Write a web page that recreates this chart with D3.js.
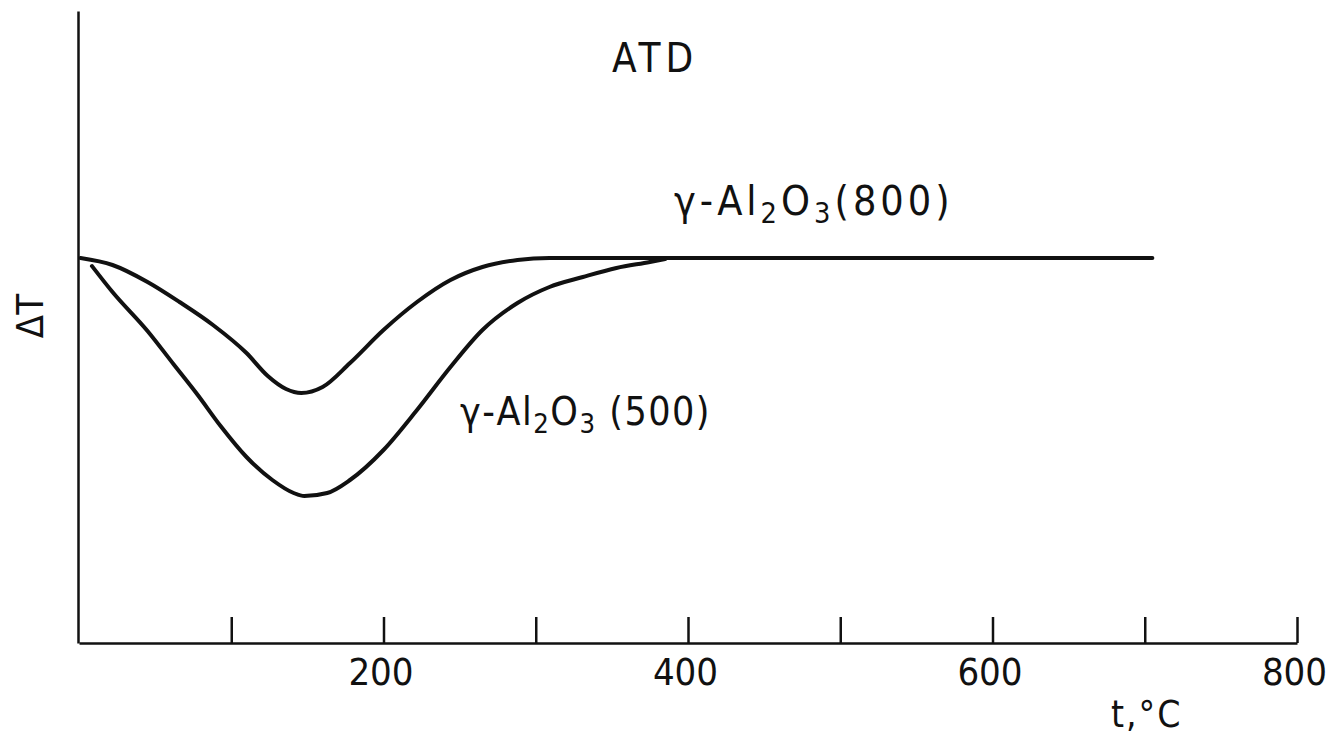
<!DOCTYPE html>
<html>
<head>
<meta charset="utf-8">
<script src="https://cdn.jsdelivr.net/npm/d3@7/dist/d3.min.js"></script>
<style>
  html, body { margin: 0; padding: 0; background: #fff; }
  svg { display: block; }
  text { font-family: "DejaVu Sans Condensed", "DejaVu Sans", sans-serif; font-stretch: condensed; fill: #111; }
</style>
</head>
<body>
<svg id="chart" width="1340" height="740"></svg>
<script>
// DTA (ATD) curves of gamma-alumina calcined at 800 and 500 °C.
// Temperature in °C, ΔT in arbitrary units (0 = baseline, negative = endotherm).
const temp800 = [1, 22, 45, 66, 88, 110, 124, 136, 146, 160, 178, 200, 222, 244, 265, 288, 309, 331, 400, 705];
const dT800   = [0, -0.7, -2.4, -4.4, -6.7, -9.5, -11.8, -13.1, -13.5, -12.9, -10.5, -7.2, -4.4, -2.2, -0.9, -0.2, 0, 0, 0, 0];

const temp500 = [8.5, 22, 45, 62, 78, 93, 110, 127, 141, 148, 163, 178, 200, 222, 244, 265, 288, 309, 331, 353, 375, 385];
const dT500   = [-0.8, -3.4, -7.3, -10.6, -13.7, -16.8, -19.9, -22.2, -23.5, -23.8, -23.5, -22.2, -19.2, -15.2, -10.9, -7.2, -4.5, -2.9, -1.9, -1.0, -0.4, -0.1];

const tickValues = [100, 200, 300, 400, 500, 600, 700, 800];
const tickLabels = { 200: "200", 400: "400", 600: "600", 800: "800" };

const svg = d3.select("#chart");

const x = d3.scaleLinear().domain([0, 800]).range([79, 1297]);
const y = d3.scaleLinear().domain([-38.5, 24.7]).range([643, 11]);

// x axis with upward ticks
const xAxis = svg.append("g")
  .attr("transform", `translate(0,${y(-38.5)})`)
  .call(d3.axisBottom(x)
    .tickValues(tickValues)
    .tickSizeInner(-26)
    .tickSizeOuter(0)
    .tickPadding(15)
    .tickFormat(d => tickLabels[d] || ""));
xAxis.select(".domain").attr("stroke", "#111").attr("stroke-width", 2.5);
xAxis.selectAll(".tick line").attr("stroke", "#111").attr("stroke-width", 2.5);
xAxis.selectAll(".tick text")
  .attr("font-family", "DejaVu Sans Condensed, DejaVu Sans, sans-serif")
  .attr("font-size", 38)
  .attr("dx", -3)
  .attr("fill", "#111");

// y axis: plain vertical line
const yAxis = svg.append("g")
  .attr("transform", `translate(${x(0) - 1},0)`)
  .call(d3.axisLeft(y).tickValues([]).tickSizeOuter(0));
yAxis.select(".domain").attr("stroke", "#111").attr("stroke-width", 2.5);

// curves
const line = d3.line()
  .x(d => x(d[0]))
  .y(d => y(d[1]))
  .curve(d3.curveMonotoneX);

const series = [
  d3.zip(temp800, dT800),
  d3.zip(temp500, dT500)
];

svg.append("g").selectAll("path")
  .data(series)
  .join("path")
  .attr("d", line)
  .attr("fill", "none")
  .attr("stroke", "#111")
  .attr("stroke-width", 4)
  .attr("stroke-linecap", "round")
  .attr("stroke-linejoin", "round");

// titles and labels
svg.append("text")
  .attr("x", 612).attr("y", 72)
  .attr("font-size", 40)
  .attr("letter-spacing", 5)
  .text("ATD");

svg.append("text")
  .attr("transform", "translate(43,316) rotate(-90)")
  .attr("text-anchor", "middle")
  .attr("font-size", 38)
  .text("ΔT");

svg.append("text")
  .attr("x", 1111).attr("y", 727)
  .attr("font-size", 37)
  .attr("letter-spacing", 2)
  .text("t,°C");

function formulaLabel(xPos, yPos, suffix, size, spacing) {
  const t = svg.append("text")
    .attr("x", xPos).attr("y", yPos)
    .attr("font-size", size)
    .attr("letter-spacing", spacing);
  t.append("tspan").text("γ-Al");
  t.append("tspan").attr("font-size", size * 0.7).attr("dy", 8).text("2");
  t.append("tspan").attr("dy", -8).text("O");
  t.append("tspan").attr("font-size", size * 0.7).attr("dy", 8).text("3");
  t.append("tspan").attr("dy", -8).text(suffix);
}
formulaLabel(674, 215, "(800)", 41, 4);
formulaLabel(460, 425, " (500)", 39, 1.5);
</script>
</body>
</html>
